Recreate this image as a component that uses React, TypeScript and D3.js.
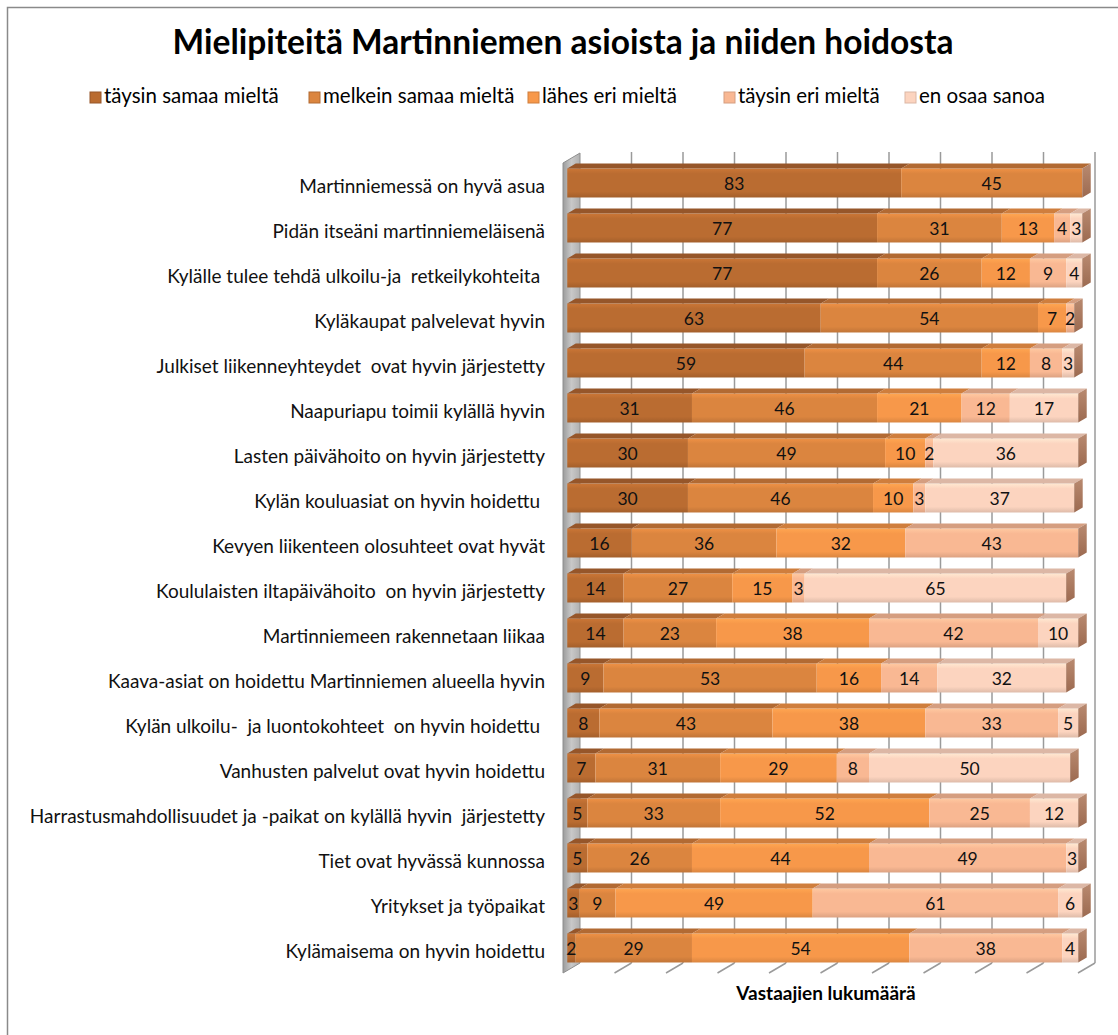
import React from "react";
import * as d3 from "d3";

const categories = [
  "Martinniemessä on hyvä asua",
  "Pidän itseäni martinniemeläisenä",
  "Kylälle tulee tehdä ulkoilu-ja  retkeilykohteita ",
  "Kyläkaupat palvelevat hyvin",
  "Julkiset liikenneyhteydet  ovat hyvin järjestetty",
  "Naapuriapu toimii kylällä hyvin",
  "Lasten päivähoito on hyvin järjestetty",
  "Kylän kouluasiat on hyvin hoidettu ",
  "Kevyen liikenteen olosuhteet ovat hyvät",
  "Koululaisten iltapäivähoito  on hyvin järjestetty",
  "Martinniemeen rakennetaan liikaa",
  "Kaava-asiat on hoidettu Martinniemen alueella hyvin",
  "Kylän ulkoilu-  ja luontokohteet  on hyvin hoidettu ",
  "Vanhusten palvelut ovat hyvin hoidettu",
  "Harrastusmahdollisuudet ja -paikat on kylällä hyvin  järjestetty",
  "Tiet ovat hyvässä kunnossa",
  "Yritykset ja työpaikat",
  "Kylämaisema on hyvin hoidettu",
];

const seriesNames = [
  "täysin samaa mieltä",
  "melkein samaa mieltä",
  "lähes eri mieltä",
  "täysin eri mieltä",
  "en osaa sanoa",
];

const taysinSamaa = [83, 77, 77, 63, 59, 31, 30, 30, 16, 14, 14, 9, 8, 7, 5, 5, 3, 2];
const melkeinSamaa = [45, 31, 26, 54, 44, 46, 49, 46, 36, 27, 23, 53, 43, 31, 33, 26, 9, 29];
const lahesEri = [0, 13, 12, 7, 12, 21, 10, 10, 32, 15, 38, 16, 38, 29, 52, 44, 49, 54];
const taysinEri = [0, 4, 9, 2, 8, 12, 2, 3, 43, 3, 42, 14, 33, 8, 25, 49, 61, 38];
const enOsaa = [0, 3, 4, 0, 3, 17, 36, 37, 0, 65, 10, 32, 5, 50, 12, 3, 6, 4];

const seriesValues = [taysinSamaa, melkeinSamaa, lahesEri, taysinEri, enOsaa];

const title = "Mielipiteitä Martinniemen asioista ja niiden hoidosta";
const axisTitle = "Vastaajien lukumäärä";
const axisMax = 128;
const gridCount = 10;

const colors = ["#BA6C31", "#DB853F", "#F7984A", "#F9B893", "#FCD4BF"];
const topColors = ["#96562A", "#B26A33", "#CF7E3D", "#D59E80", "#DCB7A5"];

const FONT = "Lato, 'Open Sans', sans-serif";

export default function App() {
  const W = 1118;
  const H = 1035;
  // 3D geometry
  const frontX0 = 563; // front plane origin
  const depthX = 17;
  const depthY = -10;
  const plotTop = 163; // front plane top
  const plotBottom = 973; // front plane bottom
  const plotWidth = 515;

  const x = d3.scaleLinear().domain([0, axisMax]).range([0, plotWidth]);
  const y = d3
    .scaleBand<string>()
    .domain(categories)
    .range([plotTop, plotBottom])
    .paddingInner(0.356)
    .paddingOuter(0.178);

  // bar depth occupies 25%..75% of floor depth
  const barFrontDx = depthX * 0.25;
  const barFrontDy = depthY * 0.25;
  const bdx = depthX * 0.5;
  const bdy = depthY * 0.5;
  const barX0 = frontX0 + barFrontDx;

  const rows = categories.map((c, i) => {
    const obj: any = { cat: c };
    seriesNames.forEach((s, j) => (obj[s] = seriesValues[j][i]));
    return obj;
  });
  const stack = d3.stack<any>().keys(seriesNames)(rows);

  const gridVals = d3.range(0, gridCount + 1).map((k) => (k * axisMax) / gridCount);
  const backX0 = frontX0 + depthX;
  const backTop = plotTop + depthY;
  const backBottom = plotBottom + depthY;

  const legendX = [90, 309, 528, 724, 905];

  return (
    <svg
      width={W}
      height={H}
      style={{ position: "absolute", left: 0, top: 0, background: "#fff" }}
      fontFamily={FONT}
    >
      <defs>
        {colors.map((c, j) => (
          <linearGradient key={j} id={`g${j}`} x1="0" y1="0" x2="0" y2="1">
            <stop offset="0" stopColor={d3.color(c)!.brighter(0.25).toString()} />
            <stop offset="0.18" stopColor={c} />
            <stop offset="0.8" stopColor={c} />
            <stop offset="1" stopColor={d3.color(c)!.darker(0.35).toString()} />
          </linearGradient>
        ))}
        <linearGradient id="wall" x1="0" y1="0" x2="1" y2="0">
          <stop offset="0" stopColor="#9c9c9c" />
          <stop offset="0.5" stopColor="#c8c8c8" />
          <stop offset="1" stopColor="#b0b0b0" />
        </linearGradient>
        <linearGradient id="cap" x1="0" y1="0" x2="0" y2="1">
          <stop offset="0" stopColor="#b98a70" />
          <stop offset="1" stopColor="#9c6a50" />
        </linearGradient>
      </defs>
      <rect x={7.5} y={7.5} width={1200} height={1100} fill="#fff" stroke="#8a8a8a" strokeWidth={1.5} />

      <text
        x={563}
        y={45}
        textAnchor="middle"
        dominantBaseline="middle"
        fontSize={33.5}
        fontWeight="bold"
        fill="#000"
      >
        {title}
      </text>

      {seriesNames.map((s, j) => (
        <g key={s} transform={`translate(${legendX[j]},98)`}>
          <rect x={0} y={-6} width={11} height={11} fill={colors[j]} stroke={topColors[j]} strokeWidth={1} />
          <text x={14} y={0} dominantBaseline="middle" fontSize={20.5} fill="#000">
            {s}
          </text>
        </g>
      ))}

      {/* back wall gridlines */}
      {gridVals.map((v, k) =>
        k === 0 ? null : (
          <g key={k}>
            <line
              x1={backX0 + x(v)}
              x2={backX0 + x(v)}
              y1={backTop - 1}
              y2={backBottom}
              stroke="#9a9a9a"
              strokeWidth={1.5}
            />
            <line
              x1={backX0 + x(v)}
              x2={frontX0 + x(v)}
              y1={backBottom}
              y2={plotBottom}
              stroke="#9a9a9a"
              strokeWidth={1.5}
            />
          </g>
        )
      )}
      {/* left side wall */}
      <polygon
        points={`${frontX0},${plotTop} ${backX0},${backTop} ${backX0},${backBottom} ${frontX0},${plotBottom}`}
        fill="url(#wall)"
        stroke="#8e8e8e"
        strokeWidth={1}
      />

      {/* bars */}
      {categories.map((c, i) => {
        const fy = (y(c) as number) + barFrontDy;
        const h = y.bandwidth();
        let lastIdx = -1;
        stack.forEach((layer, j) => {
          if (layer[i][1] - layer[i][0] > 0) lastIdx = j;
        });
        return (
          <g key={c}>
            {stack.map((layer, j) => {
              const v0 = layer[i][0];
              const v1 = layer[i][1];
              if (v1 - v0 <= 0) return null;
              const x0 = barX0 + x(v0);
              const x1 = barX0 + x(v1);
              return (
                <g key={j}>
                  <rect x={x0} y={fy} width={x1 - x0} height={h} fill={`url(#g${j})`} />
                  <polygon
                    points={`${x0},${fy} ${x0 + bdx},${fy + bdy} ${x1 + bdx},${fy + bdy} ${x1},${fy}`}
                    fill={topColors[j]}
                  />
                  {j === lastIdx && (
                    <polygon
                      points={`${x1},${fy} ${x1 + bdx},${fy + bdy} ${x1 + bdx},${fy + bdy + h} ${x1},${fy + h}`}
                      fill="url(#cap)"
                    />
                  )}
                </g>
              );
            })}
            {stack.map((layer, j) => {
              const v0 = layer[i][0];
              const v1 = layer[i][1];
              if (v1 - v0 <= 0) return null;
              const cx = barX0 + x((v0 + v1) / 2);
              return (
                <text
                  key={`t${j}`}
                  x={cx}
                  y={fy + h / 2 + 3}
                  textAnchor="middle"
                  dominantBaseline="middle"
                  fontSize={17.5}
                  fill="#111"
                >
                  {v1 - v0}
                </text>
              );
            })}
            <text
              x={545}
              y={(y(c) as number) + h / 2 + 3}
              textAnchor="end"
              dominantBaseline="middle"
              fontSize={19}
              fill="#111"
              style={{ whiteSpace: "pre" }}
            >
              {c}
            </text>
          </g>
        );
      })}

      <text
        x={826}
        y={995}
        textAnchor="middle"
        dominantBaseline="middle"
        fontSize={19}
        fontWeight="bold"
        fill="#000"
      >
        {axisTitle}
      </text>
    </svg>
  );
}
